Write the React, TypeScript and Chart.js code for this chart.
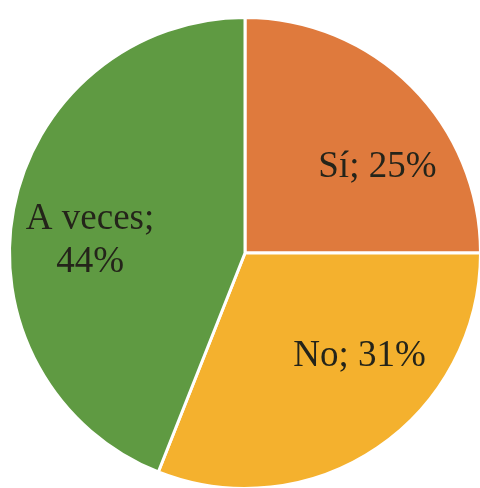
import React, { useEffect, useRef } from "react";
import { Chart, registerables } from "chart.js";

Chart.register(...registerables);

const categories = ["Sí", "No", "A veces"];
const percentages = [25, 31, 44];
const sliceColors = ["#DF7A3D", "#F4B12E", "#5F9A42"];
const labelLines = [["Sí; 25%"], ["No; 31%"], ["A veces;", "44%"]];

const labelPlugin = {
  id: "sliceLabels",
  afterDatasetsDraw(chart: any) {
    const meta = chart.getDatasetMeta(0);
    const ctx = chart.ctx;
    const angleShift = [0.21, -0.24, -0.11];
    const radiusFrac = [0.67, 0.655, 0.66];
    ctx.save();
    ctx.fillStyle = "#24241a";
    ctx.font = '37px "Liberation Serif", "Times New Roman", serif';
    ctx.textAlign = "center";
    ctx.textBaseline = "middle";
    meta.data.forEach((arc: any, i: number) => {
      const p = arc.getProps(["x", "y", "startAngle", "endAngle", "outerRadius"], true);
      const mid = (p.startAngle + p.endAngle) / 2 + angleShift[i];
      const r = p.outerRadius * radiusFrac[i];
      const cx = p.x + Math.cos(mid) * r;
      const cy = p.y + Math.sin(mid) * r;
      const lines = labelLines[i];
      const lh = 43;
      lines.forEach((t, j) => {
        ctx.fillText(t, cx, cy + (j - (lines.length - 1) / 2) * lh);
      });
    });
    ctx.restore();
  },
};

export default function App() {
  const ref = useRef<HTMLCanvasElement>(null);
  useEffect(() => {
    if (!ref.current) return;
    const chart = new Chart(ref.current, {
      type: "pie",
      data: {
        labels: categories,
        datasets: [
          {
            data: percentages,
            backgroundColor: sliceColors,
            borderColor: "#ffffff",
            borderWidth: 3,
          },
        ],
      },
      options: {
        animation: false,
        responsive: false,
        maintainAspectRatio: false,
        layout: { padding: { left: 8, right: 0, top: 16, bottom: 0 } },
        plugins: {
          legend: { display: false },
          tooltip: { enabled: false },
        },
      },
      plugins: [labelPlugin],
    });
    return () => chart.destroy();
  }, []);
  return (
    <div
      style={{
        position: "fixed",
        left: 0,
        top: 0,
        width: 480,
        height: 488,
        overflow: "hidden",
        background: "#fff",
      }}
    >
      <canvas ref={ref} width={482} height={490} style={{ width: 482, height: 490 }} />
    </div>
  );
}
